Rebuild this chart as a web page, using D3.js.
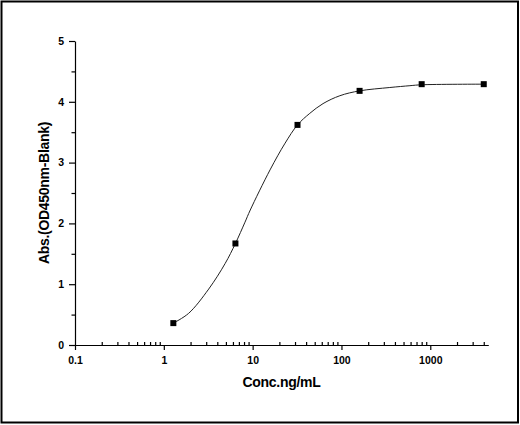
<!DOCTYPE html>
<html lang="en">

<head>
    <meta charset="UTF-8">
    <title>Standard curve</title>
    <style>
        html, body { margin: 0; padding: 0; background: #fff; }
        svg { display: block; }
        text { font-family: "Liberation Sans", Arial, sans-serif; font-weight: bold; fill: #000; }
    </style>
</head>

<body>
    <script src="https://cdn.jsdelivr.net/npm/d3@7/dist/d3.min.js"></script>
    <script>
        // measured points
        const concentrations = [1.28, 6.4, 32, 160, 800, 4000];
        const absorbance = [0.36, 1.67, 3.62, 4.18, 4.29, 4.29];

        // fitted curve
        const fitConc = [1.28, 1.9, 3.2, 4.9, 6.4, 8.2, 9.4, 15.7, 23.2, 32, 44, 62, 96, 160, 350, 590, 800, 4000];
        const fitAbs = [0.36, 0.52, 0.92, 1.34, 1.67, 2.02, 2.22, 2.88, 3.32, 3.62, 3.81, 3.97, 4.1, 4.18, 4.235, 4.265, 4.28, 4.29];

        // tick labels
        const xMajor = [0.1, 1, 10, 100, 1000];
        const xMinor = [0.2, 0.3, 0.4, 0.5, 0.6, 0.7, 0.8, 0.9,
            2, 3, 4, 5, 6, 7, 8, 9,
            20, 30, 40, 50, 60, 70, 80, 90,
            200, 300, 400, 500, 600, 700, 800, 900,
            2000, 3000, 4000];
        const yMajor = [0, 1, 2, 3, 4, 5];
        const yMinor = [0.5, 1.5, 2.5, 3.5, 4.5];

        const w = 520;
        const h = 425;
        const svg = d3.select('body')
            .append('svg')
            .attr('width', w)
            .attr('height', h);

        // outer frame
        svg.append('rect')
            .attr('x', 1.5)
            .attr('y', 1.5)
            .attr('width', 516.5)
            .attr('height', 421)
            .attr('fill', '#fff')
            .attr('stroke', '#000')
            .attr('stroke-width', 2);

        const xScale = d3.scaleLog()
            .domain([0.1, 4500])
            .range([75, 488.3]);

        const yScale = d3.scaleLinear()
            .domain([0, 5])
            .range([345, 41]);

        // y axis
        svg.append('g')
            .attr('transform', `translate(${xScale.range()[0]},0)`)
            .call(d3.axisLeft(yScale).tickValues(yMajor).tickFormat(d3.format('d'))
                .tickSize(6).tickSizeOuter(0).tickPadding(5));
        svg.append('g')
            .attr('transform', `translate(${xScale.range()[0]},0)`)
            .call(d3.axisLeft(yScale).tickValues(yMinor).tickFormat('')
                .tickSize(3.5).tickSizeOuter(0))
            .select('.domain').remove();

        // x axis
        svg.append('g')
            .attr('transform', `translate(0,${yScale(0)})`)
            .call(d3.axisBottom(xScale).tickValues(xMajor).tickFormat(d3.format('~g'))
                .tickSize(5).tickSizeOuter(0).tickPadding(6.5));
        svg.append('g')
            .attr('transform', `translate(0,${yScale(0)})`)
            .call(d3.axisTop(xScale).tickValues(xMinor).tickFormat('')
                .tickSize(3).tickSizeOuter(0))
            .select('.domain').remove();

        svg.selectAll('.tick line, .domain')
            .attr('stroke', '#000')
            .attr('stroke-width', 1.2);
        svg.selectAll('.tick text')
            .attr('font-size', '10.5px')
            .attr('font-family', '"Liberation Sans", Arial, sans-serif')
            .attr('font-weight', 'bold')
            .attr('fill', '#000');

        // axis titles
        svg.append('text')
            .attr('x', 281.5)
            .attr('y', 387)
            .attr('text-anchor', 'middle')
            .attr('font-size', '14px')
            .attr('letter-spacing', '-0.3px')
            .text('Conc.ng/mL');

        svg.append('text')
            .attr('transform', `translate(49,${(yScale(0) + yScale(5)) / 2}) rotate(-90)`)
            .attr('text-anchor', 'middle')
            .attr('font-size', '14px')
            .attr('letter-spacing', '-0.3px')
            .text('Abs.(OD450nm-Blank)');

        // fitted curve
        const line = d3.line()
            .x((d, i) => xScale(fitConc[i]))
            .y((d) => yScale(d))
            .curve(d3.curveCatmullRom.alpha(0.5));

        svg.append('path')
            .attr('d', line(fitAbs))
            .attr('fill', 'none')
            .attr('stroke', '#222')
            .attr('stroke-width', 1);

        // data markers
        const sz = 6;
        svg.selectAll('rect.pt')
            .data(absorbance)
            .enter()
            .append('rect')
            .attr('class', 'pt')
            .attr('x', (d, i) => xScale(concentrations[i]) - sz / 2)
            .attr('y', (d) => yScale(d) - sz / 2)
            .attr('width', sz)
            .attr('height', sz)
            .attr('fill', '#000');
    </script>
</body>

</html>
